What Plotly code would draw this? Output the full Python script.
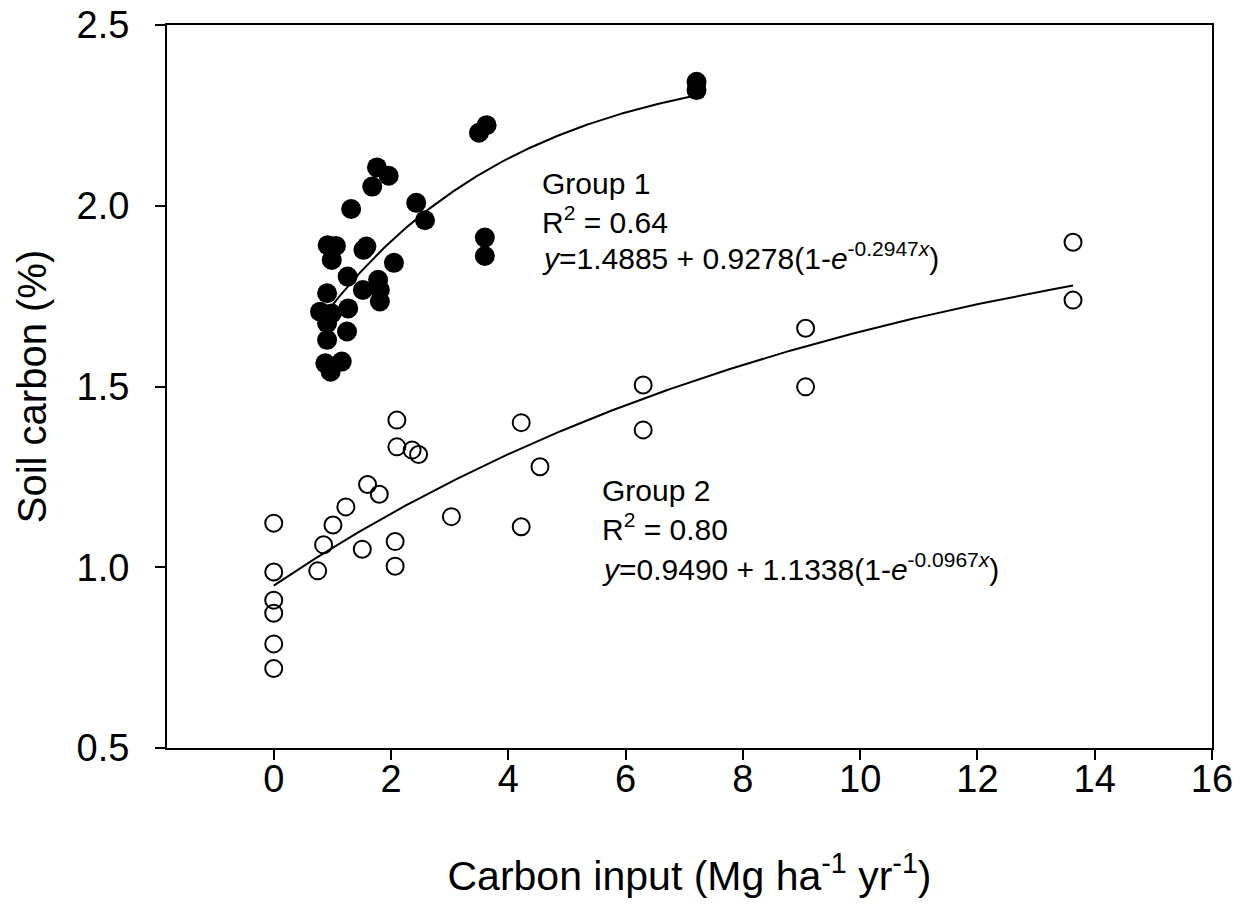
import numpy as np
import plotly.graph_objects as go

# Group 1 (filled circles)
g1_x = [3.63, 3.50, 1.76, 1.96, 1.68, 1.32, 2.43, 2.58, 3.60, 3.60,
        0.92, 1.06, 0.99, 1.58, 1.53, 2.05, 1.26, 1.78, 1.52, 1.81,
        1.81, 0.91, 0.79, 1.27, 0.99, 0.91, 1.25, 0.91, 0.88, 1.16,
        0.97, 7.21, 7.21]
g1_y = [2.223, 2.202, 2.106, 2.083, 2.053, 1.991, 2.008, 1.960, 1.912, 1.861,
        1.891, 1.889, 1.850, 1.887, 1.878, 1.842, 1.804, 1.795, 1.767, 1.767,
        1.735, 1.758, 1.707, 1.716, 1.702, 1.675, 1.652, 1.629, 1.564, 1.569,
        1.541, 2.343, 2.320]

# Group 2 (open circles)
g2_x = [2.10, 2.10, 2.36, 2.47, 1.60, 1.80, 1.23, 1.01, 0.00, 0.85,
        1.51, 2.07, 2.07, 0.75, 0.00, 0.00, 0.00, 0.00, 0.00, 3.03,
        4.22, 4.54, 4.22, 6.30, 6.30, 9.07, 9.07, 13.63, 13.63]
g2_y = [1.407, 1.333, 1.324, 1.312, 1.229, 1.202, 1.167, 1.117, 1.122, 1.062,
        1.050, 1.071, 1.003, 0.990, 0.987, 0.909, 0.873, 0.788, 0.720, 1.140,
        1.400, 1.278, 1.112, 1.504, 1.380, 1.661, 1.499, 1.899, 1.739]

# Fitted model parameters  y = a + b(1 - exp(-c x))
g1_params = (1.4885, 0.9278, 0.2947)
g2_params = (0.9490, 1.1338, 0.0967)

x_ticks = [0, 2, 4, 6, 8, 10, 12, 14, 16]
y_ticks = [0.5, 1.0, 1.5, 2.0, 2.5]
y_ticklabels = ["0.5", "1.0", "1.5", "2.0", "2.5"]

FONT = "Arial, Liberation Sans, sans-serif"


def model(x, p):
    a, b, c = p
    return a + b * (1 - np.exp(-c * x))


fig = go.Figure()

xf1 = np.linspace(min(g1_x), max(g1_x), 200)
xf2 = np.linspace(min(g2_x), max(g2_x), 200)

fig.add_trace(go.Scatter(x=xf1, y=model(xf1, g1_params), mode="lines",
                         line=dict(color="black", width=2), showlegend=False))
fig.add_trace(go.Scatter(x=xf2, y=model(xf2, g2_params), mode="lines",
                         line=dict(color="black", width=2), showlegend=False))

fig.add_trace(go.Scatter(x=g1_x, y=g1_y, mode="markers", showlegend=False,
                         marker=dict(symbol="circle", size=20, color="black",
                                     line=dict(width=0))))
fig.add_trace(go.Scatter(x=g2_x, y=g2_y, mode="markers", showlegend=False,
                         marker=dict(symbol="circle-open", size=17, color="black",
                                     line=dict(width=2, color="black"))))

ann_font = dict(family=FONT, size=30, color="black")
g1_text = ["Group 1", "R<sup>2</sup> = 0.64",
           "<i>y</i>=1.4885 + 0.9278(1-<i>e</i><sup>-0.2947<i>x</i></sup>)"]
g2_text = ["Group 2", "R<sup>2</sup> = 0.80",
           "<i>y</i>=0.9490 + 1.1338(1-<i>e</i><sup>-0.0967<i>x</i></sup>)"]
g1_pos = [(4.542, 2.062), (4.542, 1.961), (4.542, 1.862)]
g2_pos = [(5.566, 1.213), (5.566, 1.112), (5.566, 1.000)]
for txt, (ax, ay) in list(zip(g1_text, g1_pos)) + list(zip(g2_text, g2_pos)):
    fig.add_annotation(x=ax, y=ay, xref="x", yref="y", text=txt, showarrow=False,
                       xanchor="left", yanchor="middle", font=ann_font)

axis_common = dict(showline=True, linecolor="black", linewidth=2, mirror=True,
                   ticks="outside", ticklen=10, tickwidth=2, tickcolor="black",
                   showgrid=False, zeroline=False, automargin=False,
                   tickfont=dict(family=FONT, size=38, color="black"))

fig.update_xaxes(range=[-1.82, 16], tickvals=x_ticks,
                 title=dict(text="Carbon input (Mg ha<sup>-1</sup> yr<sup>-1</sup>)",
                            font=dict(family=FONT, size=41, color="black"),
                            standoff=63),
                 ticklabelstandoff=-14,
                 **axis_common)
fig.update_yaxes(range=[0.5, 2.5], tickvals=y_ticks, ticktext=y_ticklabels,
                 title=dict(text="Soil carbon (%)",
                            font=dict(family=FONT, size=40, color="black"),
                            standoff=18),
                 ticklabelstandoff=18,
                 **axis_common)

fig.update_layout(width=1240, height=913, plot_bgcolor="white", paper_bgcolor="white",
                  margin=dict(l=167, r=28, t=25, b=165), showlegend=False)

fig.write_html("out.html")
